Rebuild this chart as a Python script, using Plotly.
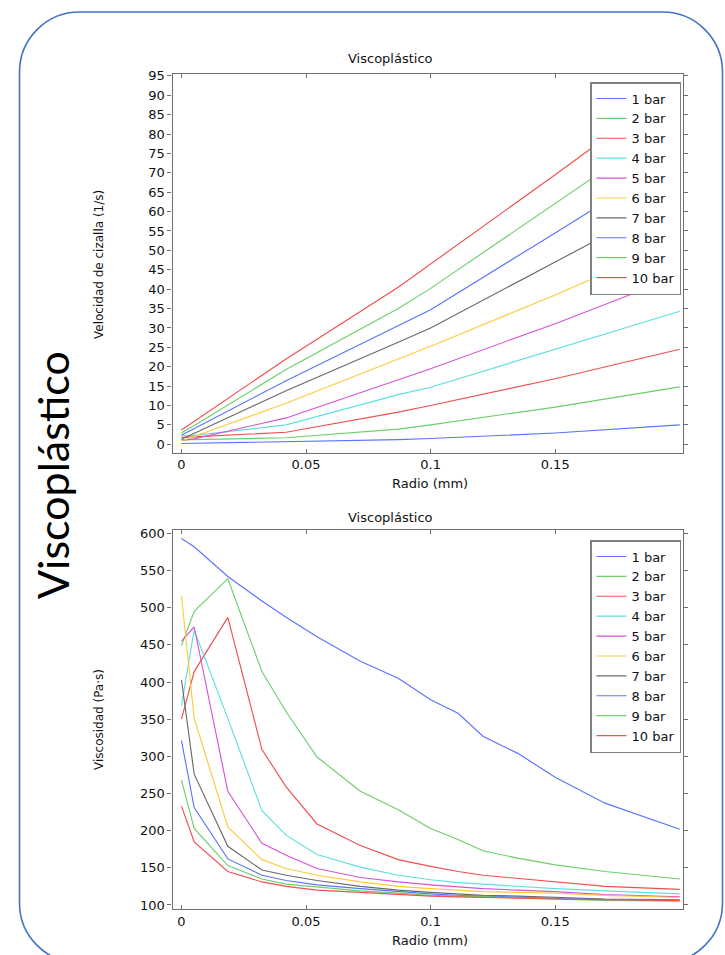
import plotly.graph_objects as go

W, H = 725, 955

# ---------------- data ----------------
series_names = ["1 bar", "2 bar", "3 bar", "4 bar", "5 bar",
                "6 bar", "7 bar", "8 bar", "9 bar", "10 bar"]

# shear rate (1/s) vs radius (mm)
radio_rate = [0, 0.005, 0.042, 0.087, 0.1, 0.15, 0.2]
rate_1 = [0.2, 0.25, 0.6, 1.2, 1.5, 2.9, 5.0]
rate_2 = [1.2, 1.2, 1.7, 3.9, 5.0, 9.6, 14.8]
rate_3 = [1.8, 1.9, 3.1, 8.3, 10.0, 16.9, 24.5]
rate_4 = [2.2, 2.3, 5.0, 12.8, 14.7, 24.6, 34.3]
rate_5 = [1.0, 1.4, 6.8, 16.7, 19.5, 31.1, 43.5]
rate_6 = [0.9, 2.0, 10.6, 21.9, 25.3, 38.5, 52.5]
rate_7 = [1.3, 2.8, 13.8, 26.3, 30.0, 47.0, 64.0]
rate_8 = [2.4, 4.0, 16.4, 30.5, 34.7, 54.5, 74.5]
rate_9 = [3.0, 4.8, 19.3, 35.0, 40.2, 62.0, 84.0]
rate_10 = [3.7, 5.9, 22.0, 40.5, 46.5, 69.5, 93.0]

# viscosity (Pa·s) vs radius (mm)
radio_visc = [0, 0.0051, 0.0186, 0.0323, 0.042, 0.0544, 0.0718, 0.087,
              0.1, 0.111, 0.121, 0.135, 0.15, 0.17, 0.2]
visc_1 = [593, 582, 542, 509, 487, 461, 428, 405, 376, 358, 327, 304, 272, 237, 202]
visc_2 = [449, 495, 539, 414, 360, 299, 253, 228, 203, 188, 173, 163, 154, 145, 135]
visc_3 = [350, 414, 487, 309, 259, 209, 180, 161, 152, 145, 140, 136, 131, 125, 121]
visc_4 = [368, 470, 351, 227, 194, 168, 151, 140, 134, 130, 128, 125, 122, 119, 115]
visc_5 = [455, 474, 253, 183, 167, 149, 137, 131, 127, 124, 122, 120, 118, 114, 111]
visc_6 = [516, 351, 205, 161, 149, 140, 131, 125, 122, 120, 118, 117, 116, 113, 110]
visc_7 = [403, 276, 179, 147, 140, 133, 125, 120, 117, 115, 113, 112, 110, 108, 107]
visc_8 = [321, 231, 162, 140, 133, 127, 122, 118, 115, 113, 112, 111, 109, 107, 106]
visc_9 = [268, 203, 153, 135, 128, 124, 119, 116, 113, 112, 111, 110, 108, 106, 105]
visc_10 = [233, 185, 145, 131, 125, 120, 117, 114, 112, 111, 110, 109, 108, 107, 106]

x_ticks = [0, 0.05, 0.1, 0.15]
x_tick_labels = ["0", "0.05", "0.1", "0.15"]
rate_ticks = list(range(0, 100, 5))
visc_ticks = list(range(100, 650, 50))

rates = [rate_1, rate_2, rate_3, rate_4, rate_5, rate_6, rate_7, rate_8, rate_9, rate_10]
viscs = [visc_1, visc_2, visc_3, visc_4, visc_5, visc_6, visc_7, visc_8, visc_9, visc_10]

colors = ["#5c74ff", "#6ccf6c", "#f05050", "#5fe0e0", "#d455d4",
          "#ffc93c", "#6a6a6a", "#5c74ff", "#6ccf6c", "#f05050"]

# ---------------- helpers (pixel -> paper) ----------------
def px(x):
    return x / W

def py(y):
    return 1 - y / H

FONT = "DejaVu Sans"

fig = go.Figure()

for name, ys, c in zip(series_names, rates, colors):
    fig.add_trace(go.Scatter(x=radio_rate, y=ys, mode="lines", name=name,
                             line=dict(color=c, width=1.15),
                             xaxis="x", yaxis="y", legend="legend"))
for name, ys, c in zip(series_names, viscs, colors):
    fig.add_trace(go.Scatter(x=radio_visc, y=ys, mode="lines", name=name,
                             line=dict(color=c, width=1.15),
                             xaxis="x2", yaxis="y2", legend="legend2"))

frame_col = "#6e6e6e"
xdom = [px(172.5), px(683)]
axis_common = dict(showline=True, linecolor=frame_col, linewidth=1.2,
                   mirror="allticks", showgrid=False, zeroline=False,
                   tickfont=dict(family=FONT, size=13, color="#111"),
                   ticklen=4, tickcolor=frame_col, automargin=False)

xrange_ = [-0.0036, 0.2013]

legend_common = dict(font=dict(family=FONT, size=13, color="#111"),
                     bgcolor="white", bordercolor="#808080", borderwidth=1.5,
                     xanchor="right", yanchor="top", itemwidth=30,
                     tracegroupgap=0)

fig.update_layout(
    width=W, height=H,
    margin=dict(l=0, r=0, t=0, b=0),
    paper_bgcolor="white", plot_bgcolor="white",
    showlegend=True,
    xaxis=dict(domain=xdom, range=xrange_, tickvals=x_ticks, ticktext=x_tick_labels,
               ticks="inside", anchor="y", **axis_common),
    yaxis=dict(domain=[py(452.6), py(73.5)], range=[-2.14, 95.6], tickvals=rate_ticks,
               ticks="outside", anchor="x", **axis_common),
    xaxis2=dict(domain=xdom, range=xrange_, tickvals=x_ticks, ticktext=x_tick_labels,
                ticks="inside", anchor="y2", **axis_common),
    yaxis2=dict(domain=[py(909), py(530)], range=[94.6, 604.5], tickvals=visc_ticks,
                ticks="outside", anchor="x2", **axis_common),
    legend=dict(x=px(681), y=py(82), **legend_common),
    legend2=dict(x=px(681), y=py(540), **legend_common),
)

# rounded frame (Office-style box), partially cut at the bottom
L, T, R, B, r = 19.5, 12, 722.5, 963, 60
k = 0.5523 * r
path = (f"M {px(L)},{py(T + r)} "
        f"C {px(L)},{py(T + r - k)} {px(L + r - k)},{py(T)} {px(L + r)},{py(T)} "
        f"L {px(R - r)},{py(T)} "
        f"C {px(R - r + k)},{py(T)} {px(R)},{py(T + r - k)} {px(R)},{py(T + r)} "
        f"L {px(R)},{py(B - r)} "
        f"C {px(R)},{py(B - r + k)} {px(R - r + k)},{py(B)} {px(R - r)},{py(B)} "
        f"L {px(L + r)},{py(B)} "
        f"C {px(L + r - k)},{py(B)} {px(L)},{py(B - r + k)} {px(L)},{py(B - r)} Z")
fig.add_shape(type="path", path=path, xref="paper", yref="paper",
              line=dict(color="#4472C4", width=1.6), layer="below")

def ann(text, x, y, size, angle=0, family=FONT, color="#111"):
    fig.add_annotation(text=text, x=px(x), y=py(y), xref="paper", yref="paper",
                       showarrow=False, textangle=angle, xanchor="center", yanchor="middle",
                       font=dict(family=family, size=size, color=color))

ann("Viscoplástico", 390, 58, 13)
ann("Viscoplástico", 390, 517, 13)
ann("Radio (mm)", 430, 483, 13)
ann("Radio (mm)", 430, 940, 13)
ann("Velocidad de cizalla (1/s)", 99, 265, 12, angle=-90)
ann("Viscosidad (Pa·s)", 99, 720, 12, angle=-90)
ann("Viscoplástico", 52, 475, 43, angle=-90, family="Lato", color="#000")

fig.write_html("out.html")
